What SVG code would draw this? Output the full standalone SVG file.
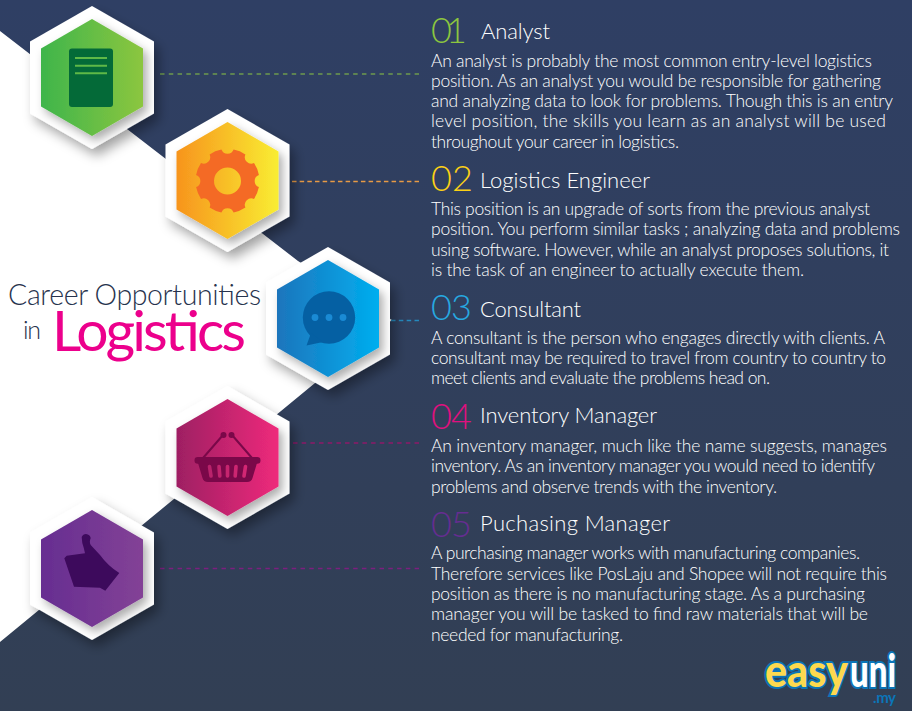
<svg xmlns="http://www.w3.org/2000/svg" width="912" height="711" viewBox="0 0 912 711">
<style>
text{font-family:"Lato","Liberation Sans",sans-serif}
.b{font-size:17.5px;fill:#fff;font-weight:300}
.h{font-size:22px;fill:#fff;font-weight:300}
.n{font-size:36px;font-weight:300}
.o{fill:#fff;filter:url(#s1)}
.i{filter:url(#s2)}
.c{fill:none;stroke-width:1.3}
</style>
<defs>
<linearGradient id="bg" x1="0" y1="0" x2="0" y2="1"><stop offset="0" stop-color="#2f3f64"/><stop offset="1" stop-color="#323f54"/></linearGradient>
<linearGradient id="g1" gradientUnits="userSpaceOnUse" x1="41" y1="0" x2="143" y2="0"><stop offset="0" stop-color="#3eb54b"/><stop offset="1" stop-color="#8cc63f"/></linearGradient>
<linearGradient id="g2" gradientUnits="userSpaceOnUse" x1="176.500" y1="0" x2="278.500" y2="0"><stop offset="0" stop-color="#f7941d"/><stop offset="1" stop-color="#f9ed32"/></linearGradient>
<linearGradient id="g3" gradientUnits="userSpaceOnUse" x1="277" y1="0" x2="379" y2="0"><stop offset="0" stop-color="#1c75bc"/><stop offset="1" stop-color="#00aeef"/></linearGradient>
<linearGradient id="g4" gradientUnits="userSpaceOnUse" x1="176.500" y1="0" x2="278.500" y2="0"><stop offset="0" stop-color="#9e1f63"/><stop offset="1" stop-color="#ee2a7b"/></linearGradient>
<linearGradient id="g5" gradientUnits="userSpaceOnUse" x1="41" y1="0" x2="143" y2="0"><stop offset="0" stop-color="#662d91"/><stop offset="1" stop-color="#834296"/></linearGradient>
<filter id="s1" x="-30%" y="-30%" width="170%" height="170%"><feDropShadow dx="5" dy="7" stdDeviation="6" flood-color="#000" flood-opacity=".35"/></filter>
<filter id="s2" x="-30%" y="-30%" width="170%" height="170%"><feDropShadow dx="4" dy="5" stdDeviation="5" flood-color="#000" flood-opacity=".32"/></filter>
<polygon id="ho" points="0,-71.500 62,-36 62,36 0,71.500 -62,36 -62,-36"/>
</defs>
<rect width="912" height="711" fill="url(#bg)"/>
<polygon id="band" points="0,31 298,261 392,320 315,383 0,642" fill="#fff"/>
<g id="connectors" class="c">
<line class="c" x1="160" y1="74" x2="419" y2="74" stroke="#6d9b4e" stroke-dasharray="4.500 4.280"/>
<line class="c" x1="292" y1="181.500" x2="419" y2="181.500" stroke="#e89a45" stroke-dasharray="4.500 3.160"/>
<line class="c" x1="391" y1="320.500" x2="419" y2="320.500" stroke="#2589bd" stroke-dasharray="4.500 3.330"/>
<line class="c" x1="293" y1="443" x2="419" y2="443" stroke="#8d1a6a" stroke-dasharray="4.500 4.180"/>
<line class="c" x1="160" y1="568.500" x2="419" y2="568.500" stroke="#7c1f7f" stroke-dasharray="4.500 4.280"/>
</g>
<g id="node1">
<use href="#ho" x="92" y="77.500" class="o"/>
<polygon class="i" fill="url(#g1)" points="92,19 143,48.500 143,106.500 92,136 41,106.500 41,48.500"/>
<rect x="69" y="48.500" width="44" height="58.500" rx="3" fill="#046a38"/>
<path d="M75 58H107M75 65.700H107M75 73.300H107" stroke="#5fb947" stroke-width="2"/>
</g>
<g id="node2">
<use href="#ho" x="227.500" y="180.500" class="o"/>
<polygon class="i" fill="url(#g2)" points="227.500,122 278.500,151.500 278.500,209.500 227.500,239 176.500,209.500 176.500,151.500"/>
<path transform="translate(227.500 181)" fill="#f46a25" fill-rule="evenodd" d="M31.400 -6.100A6.500 6.500 0 0 0 31.400 6.100A32 32 0 0 1 26.500 17.900A6.500 6.500 0 0 0 17.900 26.500A32 32 0 0 1 6.100 31.400A6.500 6.500 0 0 0 -6.100 31.400A32 32 0 0 1 -17.900 26.500A6.500 6.500 0 0 0 -26.500 17.900A32 32 0 0 1 -31.400 6.100A6.500 6.500 0 0 0 -31.400 -6.100A32 32 0 0 1 -26.500 -17.900A6.500 6.500 0 0 0 -17.900 -26.500A32 32 0 0 1 -6.100 -31.400A6.500 6.500 0 0 0 6.100 -31.400A32 32 0 0 1 17.900 -26.500A6.500 6.500 0 0 0 26.500 -17.900A32 32 0 0 1 31.400 -6.100ZM13.500 0A13.500 13.500 0 1 0 -13.500 0A13.500 13.500 0 1 0 13.500 0Z"/>
</g>
<g id="node3">
<use href="#ho" x="328" y="318.500" class="o"/>
<polygon class="i" fill="url(#g3)" points="328,260 379,289.500 379,347.500 328,377 277,347.500 277,289.500"/>
<circle cx="329" cy="317.500" r="26.200" fill="#0560a3"/>
<path d="M311 333L306.500 345.500L323 342Z" fill="#0560a3"/>
<circle cx="315" cy="317.500" r="3.400" fill="#1a8ad4"/><circle cx="329" cy="317.500" r="3.400" fill="#1a8ad4"/><circle cx="343" cy="317.500" r="3.400" fill="#1a8ad4"/>
</g>
<g id="node4">
<use href="#ho" x="227.500" y="457.500" class="o"/>
<polygon class="i" fill="url(#g4)" points="227.500,399 278.500,428.500 278.500,486.500 227.500,516 176.500,486.500 176.500,428.500"/>
<path d="M203 458L223 435M252 458L232 435" stroke="#7a0849" stroke-width="2" fill="none"/>
<circle cx="223.500" cy="435" r="3" fill="#7a0849"/><circle cx="231.500" cy="435" r="3" fill="#7a0849"/>
<rect x="194.500" y="457" width="66" height="6.700" rx="3.300" fill="#7a0849"/>
<path d="M198 463H257L252.500 478Q251.500 482 247 482H208Q203.500 482 202.500 478Z" fill="#7a0849"/>
<path d="M209.500 466.500L211 476M219 466.500L219.800 476M227.500 466.500V476M236 466.500L235.200 476M245.500 466.500L244 476" stroke="url(#g4)" stroke-width="3.600" stroke-linecap="round"/>
</g>
<g id="node5">
<use href="#ho" x="92" y="568.500" class="o"/>
<polygon class="i" fill="url(#g5)" points="92,510 143,539.500 143,597.500 92,627 41,597.500 41,539.500"/>
<path d="M81.700 537Q83 534 86 534Q90 534.500 90.700 538Q89 542 90.700 545L100 555Q108 566 119.300 573L105.300 590.700L100 587.700L74 586.700L64.300 558.300L66.700 555.700L85 553.300Q84 548 82.300 543Z" fill="#3d0a5c"/>
</g>
<g id="title">
<text x="8" y="305" font-size="28.500" font-weight="300" fill="#27334d" textLength="253">Career Opportunities</text>
<text x="23" y="338.500" font-size="25" font-weight="300" fill="#27334d" textLength="18">in</text>
<text x="52" y="351" font-size="57" fill="#ec008c" textLength="194">Logistics</text>
</g>
<g id="s01">
<text class="n" x="431" y="43" fill="#8cc63f" textLength="36">01</text>
<text class="h" x="481" y="39" textLength="69">Analyst</text>
<text class="b" x="431" y="67" textLength="441">An analyst is probably the most common entry-level logistics</text>
<text class="b" x="431" y="87" textLength="450">position. As an analyst you would be responsible for gathering</text>
<text class="b" x="431" y="107" textLength="462">and analyzing data to look for problems. Though this is an entry</text>
<text class="b" x="431" y="127" textLength="455">level position, the skills you learn as an analyst will be used</text>
<text class="b" x="431" y="148" textLength="248">throughout your career in logistics.</text>
</g>
<g id="s02">
<text class="n" x="431" y="191" fill="#fcd116" textLength="42">02</text>
<text class="h" x="480" y="188" textLength="170">Logistics Engineer</text>
<text class="b" x="431" y="215" textLength="439">This position is an upgrade of sorts from the previous analyst</text>
<text class="b" x="431" y="235" textLength="469">position. You perform similar tasks ; analyzing data and problems</text>
<text class="b" x="431" y="256" textLength="458">using software. However, while an analyst proposes solutions, it</text>
<text class="b" x="431" y="276" textLength="373">is the task of an engineer to actually execute them.</text>
</g>
<g id="s03">
<text class="n" x="431" y="320" fill="#27a9e1" textLength="41">03</text>
<text class="h" x="480" y="317" textLength="101">Consultant</text>
<text class="b" x="431" y="344" textLength="454">A consultant is the person who engages directly with clients. A</text>
<text class="b" x="431" y="364" textLength="455">consultant may be required to travel from country to country to</text>
<text class="b" x="431" y="384" textLength="339">meet clients and evaluate the problems head on.</text>
</g>
<g id="s04">
<text class="n" x="431" y="429" fill="#e0107f" textLength="41">04</text>
<text class="h" x="480" y="423" textLength="177">Inventory Manager</text>
<text class="b" x="431" y="452" textLength="456">An inventory manager, much like the name suggests, manages</text>
<text class="b" x="431" y="472" textLength="444">inventory. As an inventory manager you would need to identify</text>
<text class="b" x="431" y="493" textLength="346">problems and observe trends with the inventory.</text>
</g>
<g id="s05">
<text class="n" x="431" y="537" fill="#662d91" textLength="41">05</text>
<text class="h" x="480" y="531" textLength="190">Puchasing Manager</text>
<text class="b" x="431" y="559" textLength="429">A purchasing manager works with manufacturing companies.</text>
<text class="b" x="431" y="580" textLength="456">Therefore services like PosLaju and Shopee will not require this</text>
<text class="b" x="431" y="600" textLength="434">position as there is no manufacturing stage. As a purchasing</text>
<text class="b" x="431" y="620" textLength="437">manager you will be tasked to find raw materials that will be</text>
<text class="b" x="431" y="641" textLength="192">needed for manufacturing.</text>
</g>
<g id="logo" font-weight="900">
<text transform="translate(765 687) scale(.8 1)" font-size="46" fill="#fdd94f" stroke="#0b75b8" stroke-width="4" paint-order="stroke" textLength="103.750" lengthAdjust="spacingAndGlyphs">easy</text>
<text transform="translate(850 687) scale(.62 1)" font-size="46" fill="#fff" stroke="#0b75b8" stroke-width="4" paint-order="stroke" textLength="74.200" lengthAdjust="spacingAndGlyphs">uni</text>
<text x="873" y="703" font-size="15" font-weight="700" fill="#0b75b8" textLength="23">.my</text>
</g>
</svg>
